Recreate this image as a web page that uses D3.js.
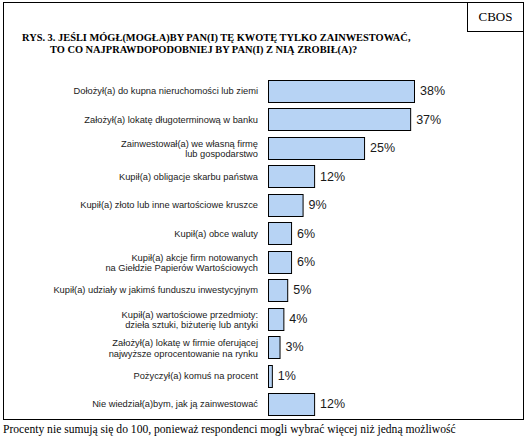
<!DOCTYPE html>
<html><head><meta charset="utf-8">
<script src="https://cdn.jsdelivr.net/npm/d3@7"></script>
<style>html,body{margin:0;padding:0;background:#fff;}svg{display:block;}</style>
</head><body>
<script>
const categories = [
  "Dołożył(a) do kupna nieruchomości lub ziemi",
  "Założył(a) lokatę długoterminową w banku",
  "Zainwestował(a) we własną firmę|lub gospodarstwo",
  "Kupił(a) obligacje skarbu państwa",
  "Kupił(a) złoto lub inne wartościowe kruszce",
  "Kupił(a) obce waluty",
  "Kupił(a) akcje firm notowanych|na Giełdzie Papierów Wartościowych",
  "Kupił(a) udziały w jakimś funduszu inwestycyjnym",
  "Kupił(a) wartościowe przedmioty:|dzieła sztuki, biżuterię lub antyki",
  "Założył(a) lokatę w firmie oferującej|najwyższe oprocentowanie na rynku",
  "Pożyczył(a) komuś na procent",
  "Nie wiedział(a)bym, jak ją zainwestować"
];
const values = [38, 37, 25, 12, 9, 6, 6, 5, 4, 3, 1, 12];
const titleLines = [
  "RYS. 3. JEŚLI MÓGŁ(MOGŁA)BY PAN(I) TĘ KWOTĘ TYLKO ZAINWESTOWAĆ,",
  "TO CO NAJPRAWDOPODOBNIEJ BY PAN(I) Z NIĄ ZROBIŁ(A)?"
];
const sourceLabel = "CBOS";
const footnote = "Procenty nie sumują się do 100, ponieważ respondenci mogli wybrać więcej niż jedną możliwość";

const W = 528, H = 437;
const svg = d3.select("body").append("svg").attr("width", W).attr("height", H);

// frame
svg.append("rect").attr("x", 3.5).attr("y", 2.5).attr("width", 520).attr("height", 417)
  .attr("fill", "none").attr("stroke", "#000").attr("stroke-width", 1);
svg.append("rect").attr("x", 467.5).attr("y", 2.5).attr("width", 56).attr("height", 29)
  .attr("fill", "none").attr("stroke", "#000").attr("stroke-width", 1);
svg.append("text").attr("x", 495.5).attr("y", 21).attr("text-anchor", "middle")
  .attr("font-family", "Liberation Serif, Times New Roman, serif").attr("font-size", 13)
  .text(sourceLabel);

// title
const tt = svg.append("g").attr("font-family", "Liberation Serif, Times New Roman, serif")
  .attr("font-size", 10.4).attr("font-weight", "bold").attr("fill", "#000");
tt.append("text").attr("x", 22).attr("y", 41).text(titleLines[0]);
tt.append("text").attr("x", 50).attr("y", 53).text(titleLines[1]);

// scales
const y = d3.scaleBand().domain(categories).range([80, 414.5]).paddingInner(0.244).paddingOuter(0);
const x = d3.scaleLinear().domain([0, 38]).range([268, 414]);

const rows = svg.append("g").selectAll("g").data(categories).join("g");

rows.append("rect")
  .attr("x", x(0) + 0.5)
  .attr("y", d => Math.round(y(d)) + 0.5)
  .attr("width", (d, i) => x(values[i]) - x(0))
  .attr("height", Math.round(y.bandwidth()))
  .attr("fill", "#b7d3f4").attr("stroke", "#000").attr("stroke-width", 1);

rows.each(function(d) {
  const lines = d.split("|");
  const cy = y(d) + y.bandwidth() / 2;
  const t = d3.select(this).append("text")
    .attr("font-family", "Liberation Sans, Arial, sans-serif").attr("font-size", 9.3)
    .attr("fill", "#1a1a1a").attr("text-anchor", "end");
  lines.forEach((ln, k) => {
    t.append("tspan").attr("x", 258)
      .attr("y", cy + 3.5 + (k - (lines.length - 1) / 2) * 10.5 + (lines.length > 1 ? 1 : 0))
      .text(ln);
  });
});

rows.append("text")
  .attr("x", (d, i) => x(values[i]) + 6)
  .attr("y", d => y(d) + y.bandwidth() / 2 + 4.5)
  .attr("font-family", "Liberation Sans, Arial, sans-serif").attr("font-size", 12.5)
  .attr("fill", "#1a1a1a")
  .text((d, i) => values[i] + "%");

// footnote
svg.append("text").attr("x", 3).attr("y", 433)
  .attr("font-family", "Liberation Serif, Times New Roman, serif").attr("font-size", 11.6)
  .text(footnote);
</script>
</body></html>
